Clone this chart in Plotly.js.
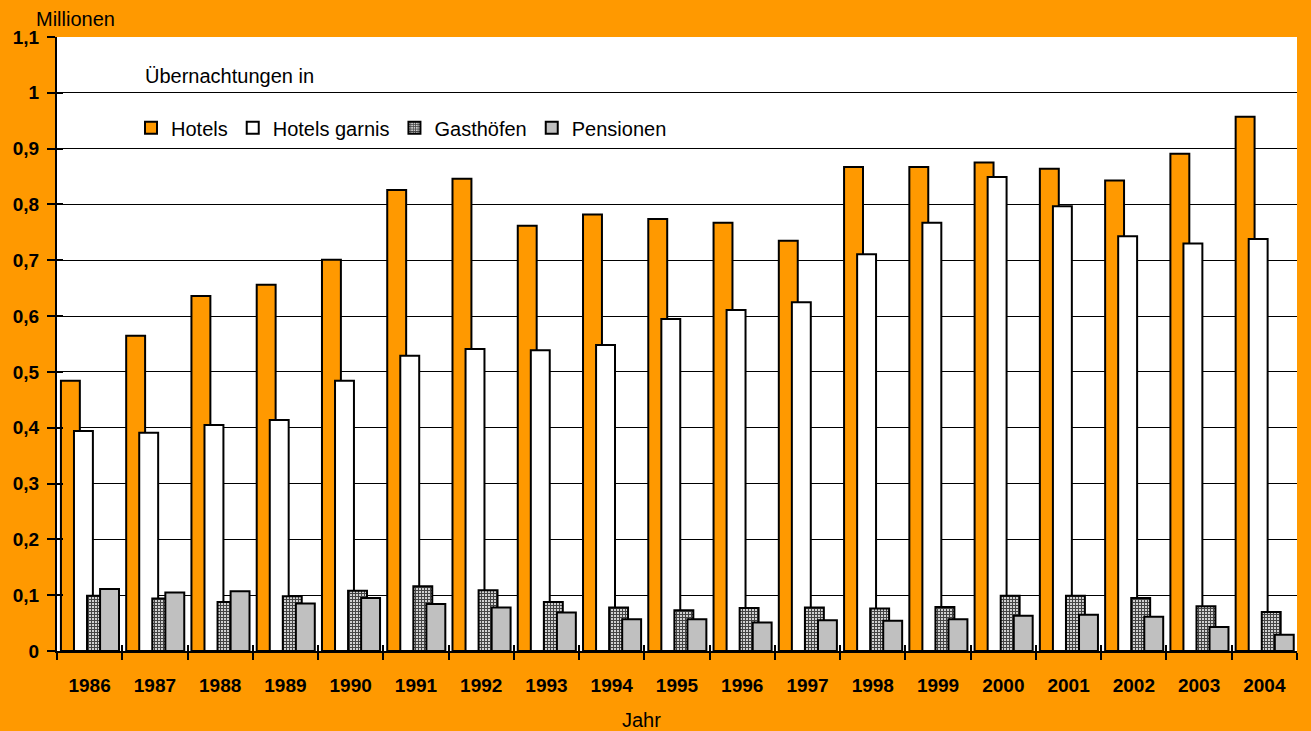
<!DOCTYPE html>
<html>
<head>
<meta charset="utf-8">
<script src="https://cdn.plot.ly/plotly-3.0.1.min.js"></script>
<style>
html,body{margin:0;padding:0;background:#FF9900;}
#chart{width:1311px;height:731px;}
</style>
</head>
<body>
<div id="chart"></div>
<script>
const years = ['1986','1987','1988','1989','1990','1991','1992','1993','1994','1995','1996','1997','1998','1999','2000','2001','2002','2003','2004'];
const hotels = [0.484,0.565,0.636,0.656,0.701,0.826,0.846,0.762,0.782,0.774,0.767,0.735,0.867,0.867,0.875,0.864,0.843,0.891,0.957];
const hotelsGarnis = [0.394,0.391,0.405,0.414,0.484,0.529,0.541,0.539,0.548,0.595,0.611,0.625,0.711,0.767,0.849,0.797,0.743,0.730,0.738];
const gasthoefen = [0.099,0.094,0.088,0.098,0.108,0.116,0.109,0.088,0.078,0.073,0.077,0.078,0.076,0.079,0.099,0.099,0.095,0.080,0.070];
const pensionen = [0.111,0.105,0.107,0.085,0.095,0.084,0.078,0.069,0.057,0.057,0.051,0.055,0.054,0.057,0.063,0.065,0.0615,0.043,0.029];
const seriesNames = ['Hotels','Hotels garnis','Gasthöfen','Pensionen'];

const FONT = '"Liberation Sans", Arial, sans-serif';
const barW = 0.29;
const line = {color:'#000', width:2};

const traces = [
  {type:'bar', name:seriesNames[0], x:years, y:hotels, width:barW, offset:-0.44,
   marker:{color:'#FF9900', line:line}},
  {type:'bar', name:seriesNames[1], x:years, y:hotelsGarnis, width:barW, offset:-0.24,
   marker:{color:'#FFFFFF', line:line}},
  {type:'bar', name:seriesNames[2], x:years, y:gasthoefen, width:barW, offset:-0.04,
   marker:{color:'#D8D8D8', line:line,
     pattern:{shape:'+', size:3, solidity:0.6, fgcolor:'#444444', bgcolor:'#D8D8D8', fillmode:'replace'}}},
  {type:'bar', name:seriesNames[3], x:years, y:pensionen, width:barW, offset:0.16,
   marker:{color:'#C0C0C0', line:line}}
];

const layout = {
  width:1311, height:731,
  paper_bgcolor:'#FF9900', plot_bgcolor:'#FFFFFF',
  margin:{l:57, r:14, t:37, b:80},
  barmode:'overlay',
  separators:',.',
  font:{family:FONT, color:'#000', size:20},
  showlegend:true,
  legend:{orientation:'h', x:0.0597, xanchor:'left', y:0.852, yanchor:'middle',
    bgcolor:'rgba(0,0,0,0)', font:{family:FONT, size:20, color:'#000'},
    traceorder:'normal'},
  xaxis:{type:'category', range:[-0.5,18.5], tickson:'boundaries',
    ticks:'outside', ticklen:7, tickwidth:2, tickcolor:'#000',
    showline:true, linecolor:'#000', linewidth:2, showgrid:false, zeroline:false,
    tickfont:{family:FONT, size:19, color:'#000', weight:'bold'},
    ticklabelstandoff:16, fixedrange:true},
  yaxis:{range:[0,1.1], dtick:0.1, tick0:0,
    ticks:'outside', ticklen:8, tickwidth:2, tickcolor:'#000',
    showline:true, linecolor:'#000', linewidth:2,
    showgrid:true, gridcolor:'#000', gridwidth:1, zeroline:false,
    tickfont:{family:FONT, size:19, color:'#000', weight:'bold'},
    ticklabelstandoff:4, fixedrange:true},
  xaxis2:{overlaying:'x', anchor:'y', side:'bottom', range:[-0.5,18.5], tick0:-0.5, dtick:1,
    ticks:'inside', ticklen:6, tickwidth:2, tickcolor:'#000', showticklabels:false,
    showgrid:false, zeroline:false, showline:false, fixedrange:true},
  yaxis2:{overlaying:'y', anchor:'x', side:'left', range:[0,1.1], tick0:0, dtick:0.1,
    ticks:'inside', ticklen:6, tickwidth:2, tickcolor:'#000', showticklabels:false,
    showgrid:false, zeroline:false, showline:false, fixedrange:true},
  annotations:[
    {text:'Millionen', xref:'paper', yref:'paper', x:0.0149, y:1.0293, xanchor:'center', yanchor:'middle',
     showarrow:false, font:{family:FONT, size:20, color:'#000'}},
    {text:'Jahr', xref:'paper', yref:'paper', x:0.4714, y:-0.1124, xanchor:'center', yanchor:'middle',
     showarrow:false, font:{family:FONT, size:20, color:'#000'}},
    {text:'Übernachtungen in', xref:'paper', yref:'paper', x:0.0694, y:0.9365, xanchor:'left', yanchor:'middle',
     showarrow:false, font:{family:FONT, size:20, color:'#000'}}
  ]
};

// empty helper trace so the secondary (tick-only) axes are active; it draws nothing
traces.push({type:'scatter', x:[], y:[], xaxis:'x2', yaxis:'y2', showlegend:false, hoverinfo:'skip'});

Plotly.newPlot('chart', traces, layout, {staticPlot:true, displayModeBar:false});
</script>
</body>
</html>
